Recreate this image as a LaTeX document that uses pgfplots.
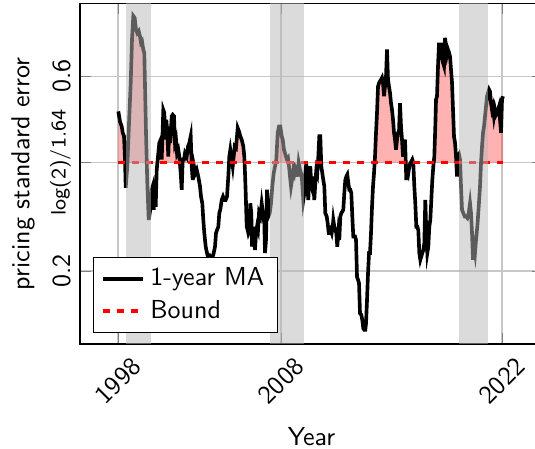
\documentclass[border=0pt]{standalone}
\usepackage{fontspec}
\usepackage{pgfplots}
\usepackage{pgfplotstable}
\pgfplotsset{compat=1.18}

\pgfplotstableread{
x y
1998.019 0.528
1998.125 0.507
1998.231 0.497
1998.294 0.484
1998.375 0.477
1998.4375 0.429
1998.481 0.371
1998.581 0.415
1998.706 0.518
1998.794 0.586
1998.875 0.676
1998.956 0.724
1999.044 0.720
1999.125 0.696
1999.206 0.689
1999.294 0.693
1999.375 0.682
1999.4375 0.669
1999.5 0.672
1999.581 0.655
1999.644 0.648
1999.75 0.484
1999.831 0.381
1999.919 0.305
2000.044 0.332
2000.106 0.367
2000.169 0.374
2000.231 0.326
2000.294 0.360
2000.356 0.332
2000.419 0.408
2000.519 0.442
2000.581 0.463
2000.669 0.470
2000.731 0.429
2000.831 0.531
2000.894 0.525
2000.956 0.470
2001.019 0.511
2001.081 0.484
2001.144 0.435
2001.206 0.497
2001.269 0.463
2001.356 0.518
2001.419 0.521
2001.5 0.518
2001.5625 0.463
2001.625 0.470
2001.6875 0.442
2001.769 0.449
2001.831 0.435
2001.919 0.401
2001.981 0.367
2002.044 0.429
2002.125 0.429
2002.1875 0.442
2002.294 0.435
2002.375 0.456
2002.456 0.463
2002.544 0.477
2002.606 0.415
2002.669 0.387
2002.75 0.415
2002.831 0.401
2002.919 0.408
2003.019 0.394
2003.125 0.374
2003.1875 0.353
2003.269 0.339
2003.331 0.305
2003.394 0.278
2003.481 0.250
2003.5625 0.237
2003.644 0.226
2003.731 0.230
2003.8125 0.223
2003.894 0.226
2003.981 0.237
2004.0625 0.250
2004.125 0.278
2004.1875 0.284
2004.269 0.291
2004.331 0.319
2004.394 0.326
2004.481 0.346
2004.5625 0.353
2004.644 0.346
2004.731 0.346
2004.8125 0.353
2004.894 0.394
2004.956 0.435
2005.019 0.449
2005.081 0.435
2005.169 0.415
2005.231 0.435
2005.294 0.456
2005.375 0.453
2005.419 0.470
2005.481 0.494
2005.5625 0.487
2005.644 0.477
2005.731 0.470
2005.831 0.456
2005.894 0.435
2005.9375 0.401
2005.981 0.360
2006.044 0.291
2006.106 0.284
2006.144 0.278
2006.206 0.284
2006.269 0.339
2006.331 0.319
2006.375 0.250
2006.4375 0.291
2006.5 0.271
2006.5625 0.243
2006.625 0.278
2006.6875 0.291
2006.75 0.284
2006.8125 0.319
2006.894 0.312
2006.981 0.339
2007.0625 0.319
2007.144 0.298
2007.1875 0.237
2007.25 0.264
2007.3125 0.367
2007.394 0.312
2007.481 0.319
2007.5625 0.339
2007.644 0.374
2007.731 0.401
2007.8125 0.415
2007.894 0.429
2007.981 0.484
2008.0625 0.497
2008.144 0.497
2008.231 0.477
2008.294 0.470
2008.375 0.449
2008.4375 0.442
2008.5 0.435
2008.5625 0.429
2008.625 0.432
2008.6875 0.415
2008.75 0.394
2008.8125 0.374
2008.875 0.387
2008.956 0.408
2009.019 0.401
2009.081 0.415
2009.169 0.411
2009.231 0.394
2009.294 0.422
2009.375 0.408
2009.4375 0.401
2009.5 0.387
2009.581 0.346
2009.644 0.360
2009.706 0.401
2009.769 0.422
2009.831 0.374
2009.894 0.346
2009.956 0.401
2010.019 0.415
2010.081 0.374
2010.144 0.367
2010.206 0.394
2010.269 0.346
2010.331 0.381
2010.394 0.408
2010.456 0.401
2010.519 0.435
2010.581 0.477
2010.644 0.477
2010.706 0.415
2010.769 0.401
2010.831 0.387
2010.894 0.374
2010.956 0.319
2011.044 0.312
2011.106 0.298
2011.169 0.278
2011.231 0.278
2011.294 0.284
2011.356 0.278
2011.419 0.291
2011.456 0.305
2011.519 0.291
2011.581 0.284
2011.644 0.278
2011.706 0.250
2011.769 0.278
2011.831 0.264
2011.894 0.312
2011.956 0.319
2012.019 0.322
2012.081 0.326
2012.144 0.360
2012.206 0.387
2012.269 0.394
2012.331 0.398
2012.394 0.381
2012.456 0.367
2012.519 0.367
2012.581 0.360
2012.644 0.312
2012.706 0.271
2012.8125 0.271
2012.875 0.264
2012.9375 0.188
2013.0 0.182
2013.0625 0.175
2013.125 0.113
2013.206 0.110
2013.269 0.099
2013.331 0.082
2013.394 0.079
2013.456 0.079
2013.5 0.092
2013.5625 0.140
2013.625 0.195
2013.6875 0.237
2013.75 0.237
2013.8125 0.278
2013.875 0.332
2013.9375 0.374
2014.0 0.401
2014.0625 0.435
2014.125 0.484
2014.1875 0.525
2014.25 0.579
2014.3125 0.586
2014.375 0.590
2014.4375 0.593
2014.5 0.597
2014.5625 0.586
2014.625 0.559
2014.6875 0.579
2014.75 0.600
2014.8125 0.655
2014.875 0.593
2014.9375 0.579
2015.0 0.566
2015.0625 0.545
2015.125 0.531
2015.1875 0.511
2015.25 0.484
2015.3125 0.470
2015.375 0.449
2015.4375 0.470
2015.5 0.484
2015.5625 0.487
2015.625 0.545
2015.6875 0.497
2015.75 0.470
2015.8125 0.435
2015.875 0.456
2015.9375 0.470
2016.019 0.387
2016.081 0.408
2016.144 0.401
2016.206 0.415
2016.269 0.422
2016.331 0.425
2016.394 0.429
2016.456 0.422
2016.519 0.374
2016.581 0.339
2016.644 0.291
2016.706 0.291
2016.769 0.284
2016.831 0.237
2016.894 0.223
2016.956 0.230
2017.019 0.237
2017.081 0.243
2017.144 0.257
2017.206 0.346
2017.269 0.278
2017.331 0.237
2017.394 0.250
2017.456 0.291
2017.519 0.305
2017.581 0.346
2017.644 0.387
2017.706 0.415
2017.769 0.435
2017.831 0.497
2017.875 0.552
2017.9375 0.559
2018.0 0.621
2018.0625 0.669
2018.125 0.634
2018.1875 0.669
2018.25 0.641
2018.3125 0.628
2018.375 0.621
2018.4375 0.679
2018.5 0.662
2018.5625 0.645
2018.625 0.655
2018.6875 0.649
2018.75 0.641
2018.8125 0.614
2018.875 0.587
2018.9375 0.531
2019.0 0.476
2019.0625 0.464
2019.125 0.435
2019.1875 0.394
2019.25 0.435
2019.3125 0.439
2019.375 0.429
2019.4375 0.373
2019.5 0.326
2019.581 0.319
2019.669 0.312
2019.75 0.312
2019.831 0.309
2019.919 0.319
2020.0 0.339
2020.0625 0.319
2020.125 0.278
2020.1875 0.223
2020.25 0.250
2020.3125 0.237
2020.375 0.264
2020.456 0.291
2020.544 0.332
2020.625 0.374
2020.6875 0.422
2020.75 0.456
2020.8125 0.484
2020.875 0.497
2020.9375 0.518
2021.0 0.538
2021.0625 0.559
2021.125 0.566
2021.1875 0.573
2021.25 0.569
2021.3125 0.545
2021.375 0.531
2021.4375 0.538
2021.5 0.518
2021.5625 0.531
2021.625 0.521
2021.6875 0.525
2021.75 0.531
2021.8125 0.538
2021.875 0.511
2021.9375 0.484
2022.0 0.552
2022.0625 0.559
}\madata

\begin{document}
\sffamily
\begin{tikzpicture}
\begin{axis}[
  at={(0pt,0pt)}, anchor=south west,
  scale only axis, width=178.08pt, height=131.04pt,
  xmin=1995.625, xmax=2024.5625, ymin=0.05, ymax=0.75,
  xtick={1998,2008.1875,2022}, xticklabels={1998,2008,2022},
  ytick={0.2,0.42265,0.6}, yticklabels={0.2,{\footnotesize log(2)/1.64},0.6},
  grid=major, grid style={black!22, line width=0.4pt},
  tick style={black!50},
  axis line style={line width=0.5pt},
  tick label style={font=\sffamily},
  xticklabel style={rotate=45, anchor=center},
  xticklabel shift=14.2pt,
  yticklabel style={rotate=90, anchor=south},
  label style={font=\sffamily},
  xlabel={Year}, ylabel={pricing standard error},
  xlabel style={at={(axis description cs:0.5,-0.273)}, anchor=center},
  ylabel style={at={(axis description cs:-0.123,0.5)}, anchor=center},
  legend style={at={(axis description cs:0.028,0.032)}, anchor=south west,
    draw=black, line width=0.5pt, font=\sffamily},
  legend cell align=left,
  legend image code/.code={\draw[#1] (0pt,0pt) -- (15.4pt,0pt);},
]
\addplot[forget plot, draw=none, fill=red, fill opacity=0.3]
  table[x=x, y expr={max(\thisrow{y},0.42265)}] {\madata}
  -- (axis cs:2022.0625,0.42265) -- (axis cs:1998.019,0.42265) -- cycle;
\addplot[black, line width=1.4pt] table[x=x,y=y] {\madata};
\addlegendentry{1-year MA}
\addplot[red, line width=1.4pt, dash pattern=on 2.7pt off 2.7pt] coordinates {(1998,0.42265) (2022.0625,0.42265)};
\addlegendentry{Bound}
\addplot[forget plot, draw=none, fill=black!28, fill opacity=0.5] coordinates {(1998.5,0.75) (2000.04,0.75)} \closedcycle;
\addplot[forget plot, draw=none, fill=black!28, fill opacity=0.5] coordinates {(2007.5,0.75) (2009.625,0.75)} \closedcycle;
\addplot[forget plot, draw=none, fill=black!28, fill opacity=0.5] coordinates {(2019.3125,0.75) (2021.1,0.75)} \closedcycle;
\end{axis}
\pgfresetboundingbox
\useasboundingbox (-30.77pt,-40pt) rectangle (175pt,132.31pt);
\end{tikzpicture}
\end{document}
